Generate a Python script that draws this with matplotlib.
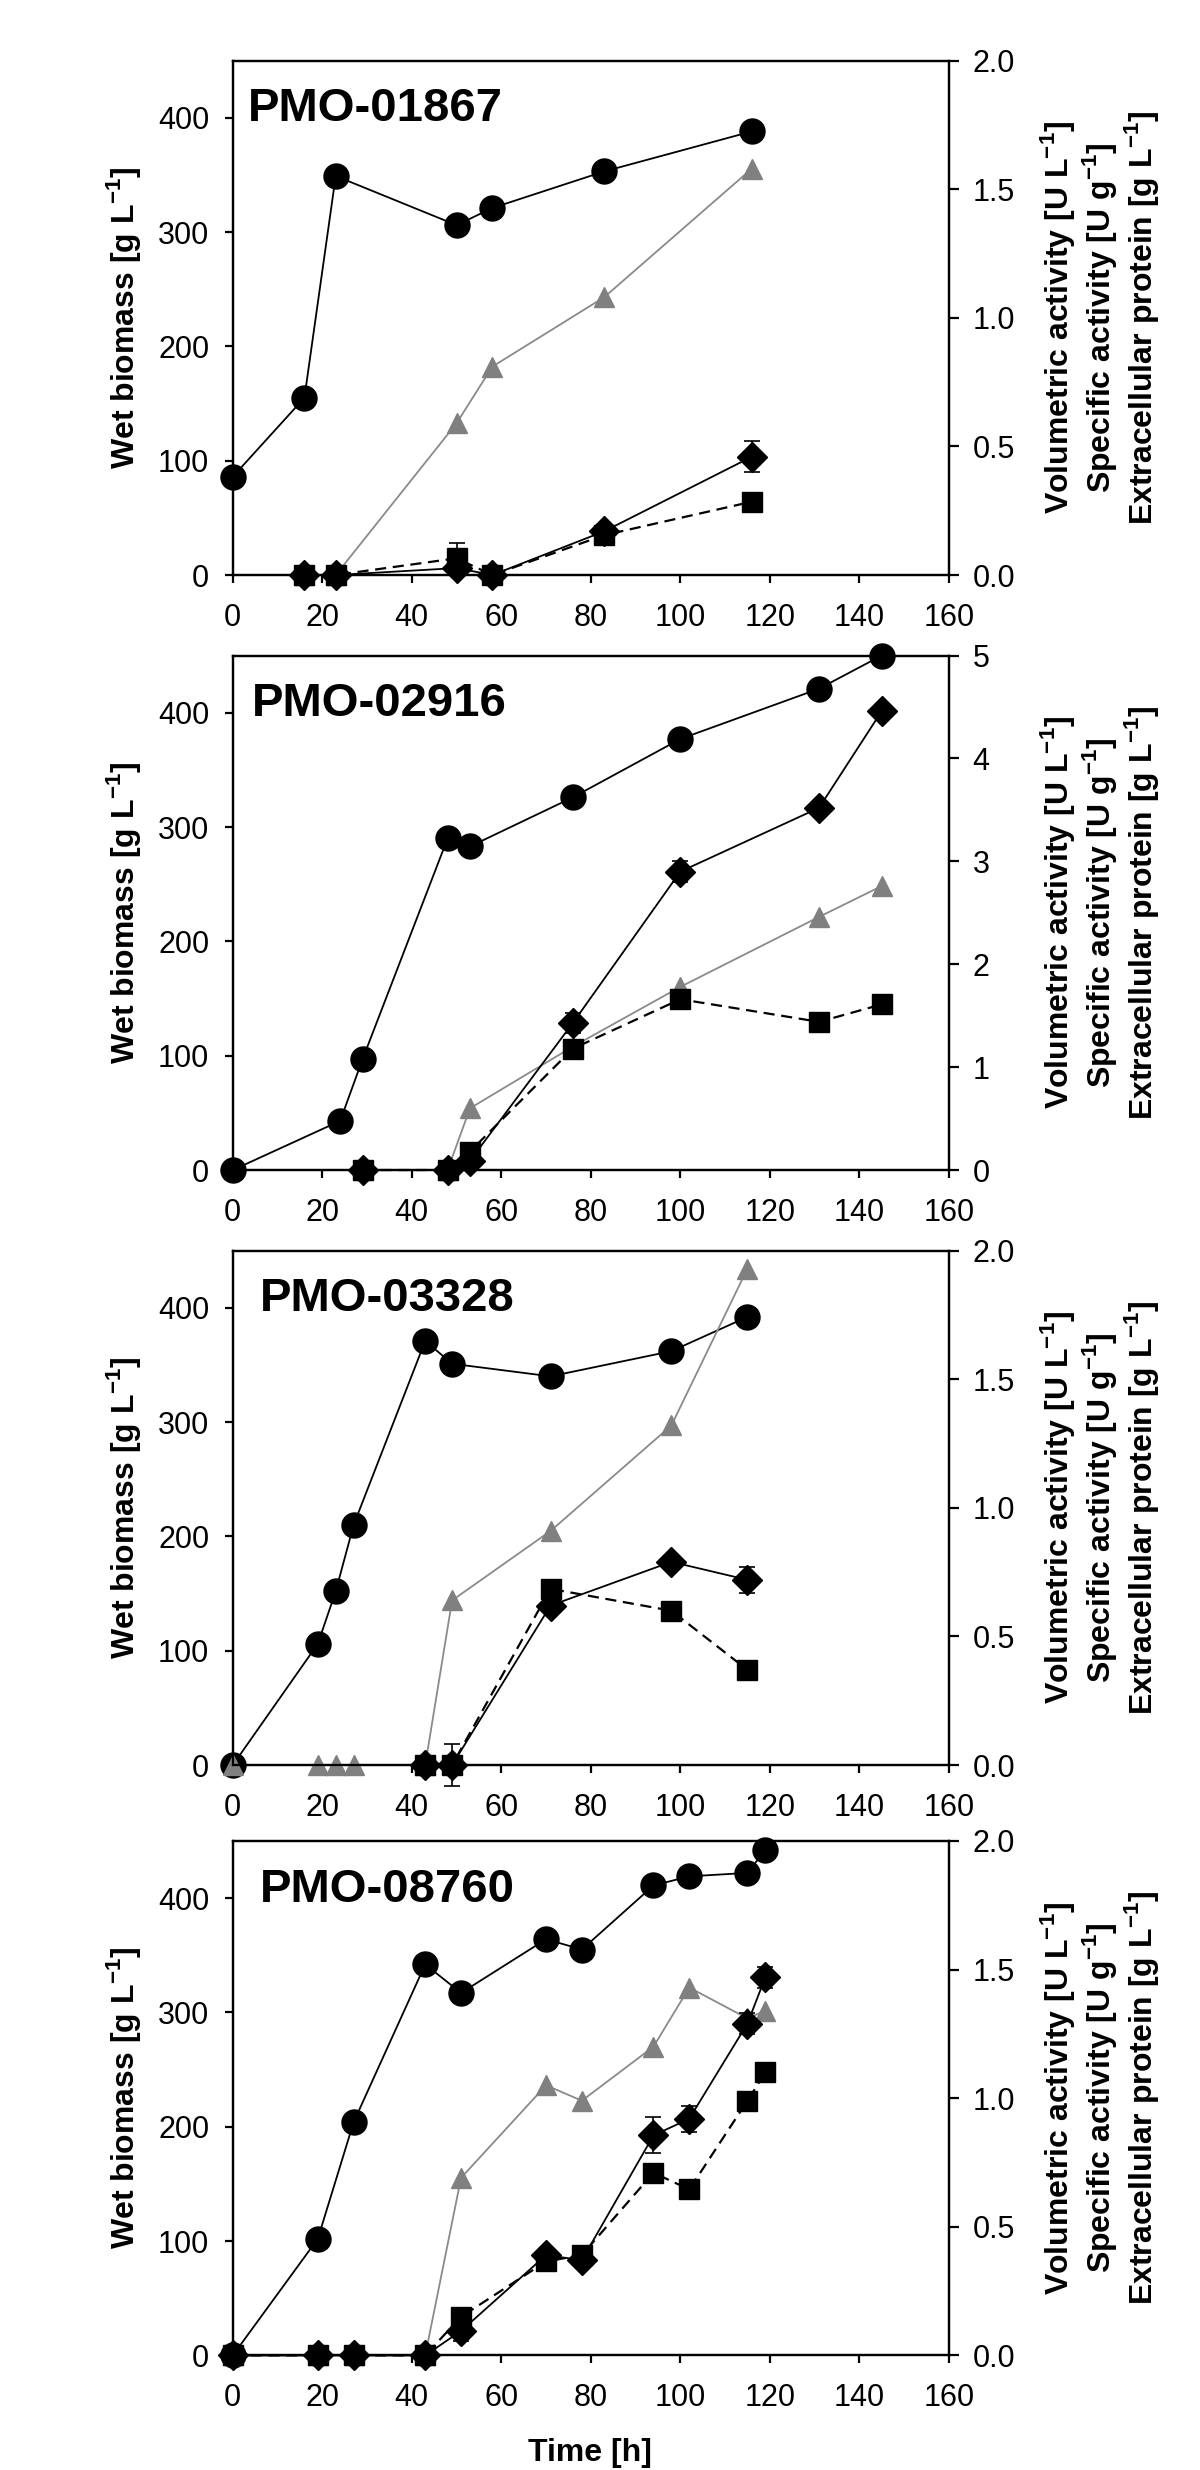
import matplotlib
matplotlib.use("Agg")
import matplotlib.pyplot as plt

plt.rcParams['font.family'] = ['Liberation Sans', 'DejaVu Sans']
plt.rcParams['mathtext.fontset'] = 'custom'
plt.rcParams['mathtext.rm'] = 'Liberation Sans'
plt.rcParams['mathtext.bf'] = 'Liberation Sans:bold'

# ---- PMO-01867 ----
t1_bio = [0, 16, 23, 50, 58, 83, 116]
bio1 = [86, 155, 349, 306, 321, 353, 388]
t1 = [16, 23, 50, 58, 83, 116]
vol1 = [0, 0, 0.027, 0, 0.17, 0.46]
vol1_err = [0, 0, 0.01, 0.02, 0.01, 0.06]
spec1 = [0, 0, 0.065, 0, 0.155, 0.285]
spec1_err = [0, 0, 0.06, 0.02, 0.01, 0.01]
prot1 = [0, 0, 0.59, 0.81, 1.08, 1.58]

# ---- PMO-02916 ----
t2_bio = [0, 24, 29, 48, 53, 76, 100, 131, 145]
bio2 = [0, 43, 97, 290, 283, 326, 377, 421, 450]
t2 = [29, 48, 53, 76, 100, 131, 145]
vol2 = [0, 0, 0.09, 1.43, 2.9, 3.52, 4.46]
vol2_err = [0, 0, 0.02, 0.1, 0.1, 0.03, 0.03]
spec2 = [0, 0, 0.18, 1.18, 1.66, 1.44, 1.61]
spec2_err = [0, 0, 0.02, 0.03, 0.03, 0.03, 0.03]
prot2 = [0, 0, 0.6, 1.2, 1.78, 2.46, 2.76]

# ---- PMO-03328 ----
t3_bio = [0, 19, 23, 27, 43, 49, 71, 98, 115]
bio3 = [0, 106, 152, 210, 371, 351, 340, 362, 392]
t3_prot = [0, 19, 23, 27, 43, 49, 71, 98, 115]
prot3 = [0, 0, 0, 0, 0, 0.64, 0.91, 1.32, 1.93]
t3 = [43, 49, 71, 98, 115]
vol3 = [0, 0, 0.62, 0.79, 0.72]
vol3_err = [0, 0.02, 0.02, 0.01, 0.05]
spec3 = [0, 0, 0.685, 0.6, 0.37]
spec3_err = [0, 0.08, 0.02, 0.01, 0.01]

# ---- PMO-08760 ----
t4_bio = [0, 19, 27, 43, 51, 70, 78, 94, 102, 115, 119]
bio4 = [0, 102, 204, 342, 317, 364, 355, 411, 419, 422, 442]
t4 = [0, 19, 27, 43, 51, 70, 78, 94, 102, 115, 119]
vol4 = [0, 0, 0, 0, 0.095, 0.39, 0.37, 0.855, 0.92, 1.29, 1.47]
vol4_err = [0, 0, 0, 0, 0.04, 0.01, 0.01, 0.07, 0.05, 0.04, 0.04]
spec4 = [0, 0, 0, 0, 0.15, 0.365, 0.39, 0.71, 0.645, 0.99, 1.1]
spec4_err = [0, 0, 0, 0, 0.01, 0.01, 0.01, 0.01, 0.01, 0.01, 0.01]
prot4 = [0, 0, 0, 0, 0.69, 1.05, 0.99, 1.2, 1.43, 1.31, 1.34]

panels = [
    dict(name="PMO-01867", tb=t1_bio, bio=bio1, tp=t1, prot=prot1, ta=t1,
         vol=vol1, vol_err=vol1_err, spec=spec1, spec_err=spec1_err,
         rmax=2.0, rticks=[0, 0.5, 1.0, 1.5, 2.0], rfmt="{:.1f}",
         bottom=0.7672, tx=0.021),
    dict(name="PMO-02916", tb=t2_bio, bio=bio2, tp=t2, prot=prot2, ta=t2,
         vol=vol2, vol_err=vol2_err, spec=spec2, spec_err=spec2_err,
         rmax=5, rticks=[0, 1, 2, 3, 4, 5], rfmt="{:.0f}",
         bottom=0.5263, tx=0.027),
    dict(name="PMO-03328", tb=t3_bio, bio=bio3, tp=t3_prot, prot=prot3, ta=t3,
         vol=vol3, vol_err=vol3_err, spec=spec3, spec_err=spec3_err,
         rmax=2.0, rticks=[0, 0.5, 1.0, 1.5, 2.0], rfmt="{:.1f}",
         bottom=0.2854, tx=0.038),
    dict(name="PMO-08760", tb=t4_bio, bio=bio4, tp=t4, prot=prot4, ta=t4,
         vol=vol4, vol_err=vol4_err, spec=spec4, spec_err=spec4_err,
         rmax=2.0, rticks=[0, 0.5, 1.0, 1.5, 2.0], rfmt="{:.1f}",
         bottom=0.0464, tx=0.038),
]

fig = plt.figure(figsize=(12, 24.7), dpi=100)

for p in panels:
    ax = fig.add_axes([0.194, p["bottom"], 0.5967, 0.2083])
    ax2 = ax.twinx()

    # biomass on left axis
    ax.plot(p["tb"], p["bio"], color="k", lw=1.3, marker="o", ms=18,
            clip_on=False, zorder=3)
    ax.set_xlim(0, 160)
    ax.set_ylim(0, 450)
    ax.set_xticks(range(0, 161, 20))
    ax.set_yticks([0, 100, 200, 300, 400])

    # protein (grey triangles)
    ax2.plot(p["tp"], p["prot"], color="#8a8a8a", lw=1.3, marker="^", ms=15,
             mfc="#808080", mec="#808080", clip_on=False, zorder=2)
    # specific activity (squares, dashed)
    ax2.errorbar(p["ta"], p["spec"], yerr=p["spec_err"], fmt="none", ecolor="k",
                 elinewidth=1.2, capsize=6, capthick=1.2, clip_on=False, zorder=3)
    ax2.plot(p["ta"], p["spec"], color="k", lw=1.6, ls=(0, (5, 3)), marker="s",
             ms=15, clip_on=False, zorder=4)
    # volumetric activity (diamonds)
    ax2.errorbar(p["ta"], p["vol"], yerr=p["vol_err"], fmt="none", ecolor="k",
                 elinewidth=1.2, capsize=6, capthick=1.2, clip_on=False, zorder=3)
    ax2.plot(p["ta"], p["vol"], color="k", lw=1.3, marker="D", ms=15,
             clip_on=False, zorder=5)
    ax2.set_ylim(0, p["rmax"])
    ax2.set_yticks(p["rticks"])
    ax2.set_yticklabels([p["rfmt"].format(v) for v in p["rticks"]])

    for a in (ax, ax2):
        for s in a.spines.values():
            s.set_linewidth(1.6)
    ax.tick_params(axis="both", direction="out", length=6, width=1.6,
                   labelsize=22)
    ax.tick_params(axis="y", pad=11)
    ax.tick_params(axis="x", pad=14)
    ax2.tick_params(axis="y", direction="out", length=7, width=1.6,
                    labelsize=22, pad=10)

    ax.text(p["tx"], 0.905, p["name"], transform=ax.transAxes, fontsize=34,
            fontweight="bold", ha="left", va="center")
    ax.text(-0.152, 0.5, r"Wet biomass [g L$^{\mathbf{-1}}$]",
            transform=ax.transAxes, rotation=90, ha="center", va="center",
            fontsize=23, fontweight="bold")
    ax2.text(1.211, 0.5,
             "Volumetric activity [U L$^{\\mathbf{-1}}$]\n"
             "Specific activity [U g$^{\\mathbf{-1}}$]\n"
             "Extracellular protein [g L$^{\\mathbf{-1}}$]",
             transform=ax2.transAxes, rotation=90, ha="center", va="center",
             multialignment="center", fontsize=23, fontweight="bold",
             linespacing=1.1)

fig.text(0.492, 1 - 2453 / 2470, "Time [h]", ha="center", va="center",
         fontsize=23, fontweight="bold")

fig.savefig("out.png", dpi=100)
